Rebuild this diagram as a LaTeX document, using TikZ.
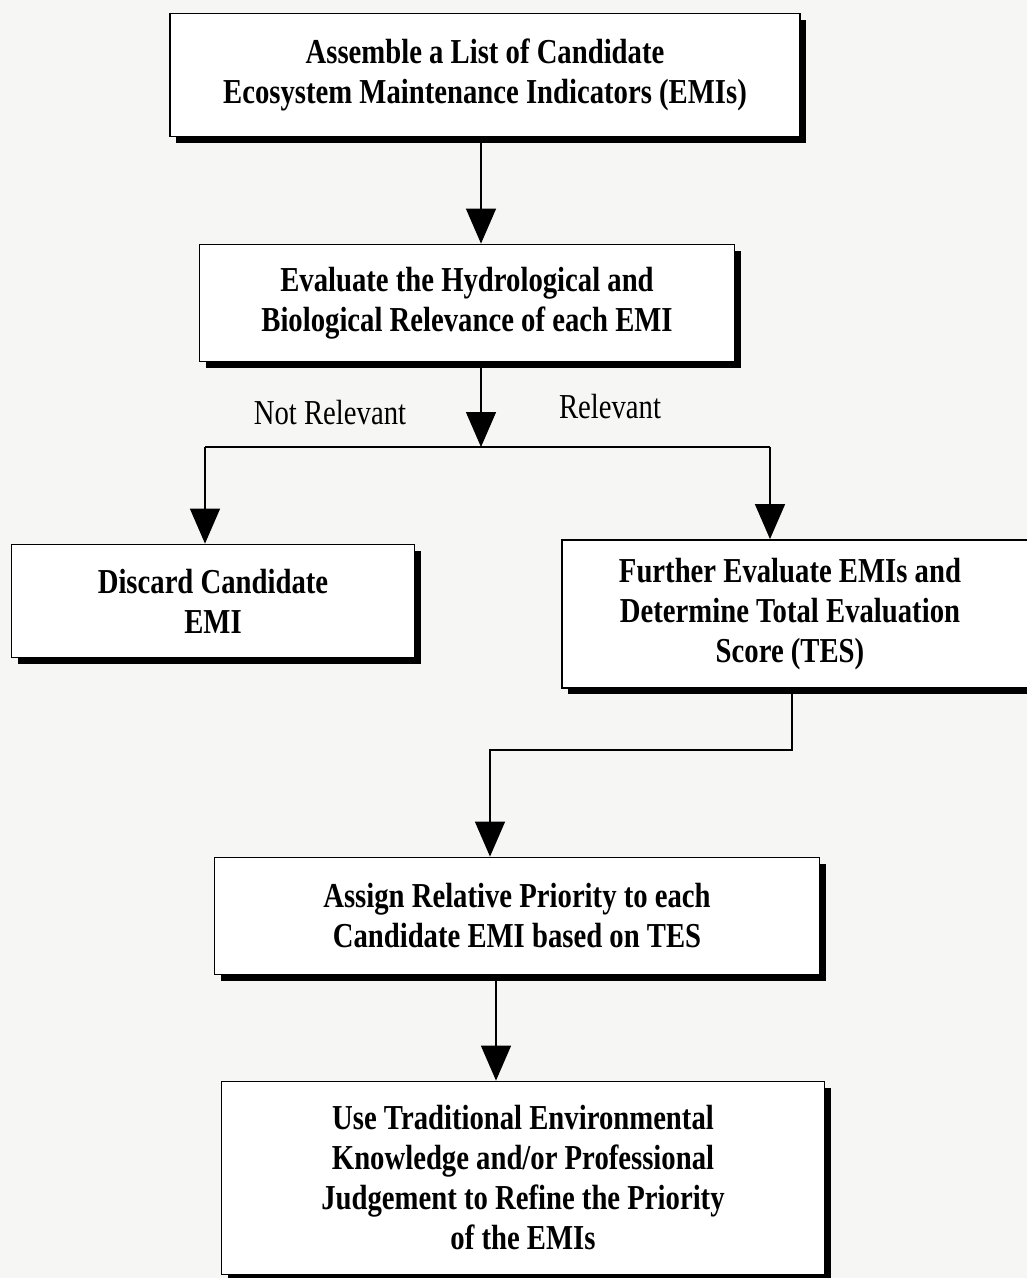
\documentclass[tikz,border=0pt]{standalone}
\usepackage{fontspec}
\setmainfont[FakeStretch=0.82]{Liberation Serif}
\usetikzlibrary{arrows.meta,shadows}
\definecolor{paper}{HTML}{F6F6F4}
\begin{document}
\begin{tikzpicture}[x=1pt,y=-1pt,
  stepbox/.style={draw=black,line width=1.8pt,fill=white,align=center,
    font=\fontsize{35}{40}\selectfont\bfseries,
    drop shadow={shadow xshift=6pt,shadow yshift=-6pt,fill=black,opacity=1},
    inner sep=0pt},
  arr/.style={line width=1.4pt,-{Triangle[length=35pt,width=30pt]}},
  conn/.style={line width=1.4pt},
  lbl/.style={font=\fontsize{35}{40}\selectfont}]
\fill[paper] (0,0) rectangle (1027,1278);
\useasboundingbox (0,0) rectangle (1027,1278);
\clip (0,0) rectangle (1027,1278);

\node[stepbox,minimum width=630pt,minimum height=123pt] (b1) at (485,75)
  {Assemble a List of Candidate\\Ecosystem Maintenance Indicators (EMIs)};
\node[stepbox,minimum width=535pt,minimum height=117pt] (b2) at (467,303)
  {Evaluate the Hydrological and\\Biological Relevance of each EMI};
\node[stepbox,minimum width=403pt,minimum height=113pt] (b3) at (213,601)
  {Discard Candidate\\EMI};
\node[stepbox,minimum width=478pt,minimum height=148pt] (b4) at (801,614)
  {\begin{tabular}{@{}c@{}}Further Evaluate EMIs and\\Determine Total Evaluation\\Score (TES)\end{tabular}\hspace*{22pt}};
\node[stepbox,minimum width=605pt,minimum height=117pt] (b5) at (517,916)
  {Assign Relative Priority to each\\Candidate EMI based on TES};
\node[stepbox,minimum width=603pt,minimum height=193pt] (b6) at (523,1178)
  {Use Traditional Environmental\\Knowledge and/or Professional\\Judgement to Refine the Priority\\of the EMIs};

\node[lbl] (nr) at (330,413) {Not Relevant};
\node[lbl] (rl) at (610,407) {Relevant};

\coordinate (a1) at (481,0);
\coordinate (j) at (481,447);
\coordinate (jl) at (205,447);
\coordinate (jr) at (770,447);
\coordinate (k1) at (792,750);
\coordinate (k2) at (490,750);
\coordinate (a5) at (496,0);

\draw[arr] (b1.south -| a1) -- (b2.north -| a1);
\draw[arr] (b2.south -| j) -- (j);
\draw[conn] (jl) -- (jr);
\draw[arr] (jl) -- (b3.north -| jl);
\draw[arr] (jr) -- (b4.north -| jr);
\draw[arr] (b4.south -| k1) -- (k1) -- (k2) -- (b5.north -| k2);
\draw[arr] (b5.south -| a5) -- (b6.north -| a5);
\end{tikzpicture}
\end{document}
